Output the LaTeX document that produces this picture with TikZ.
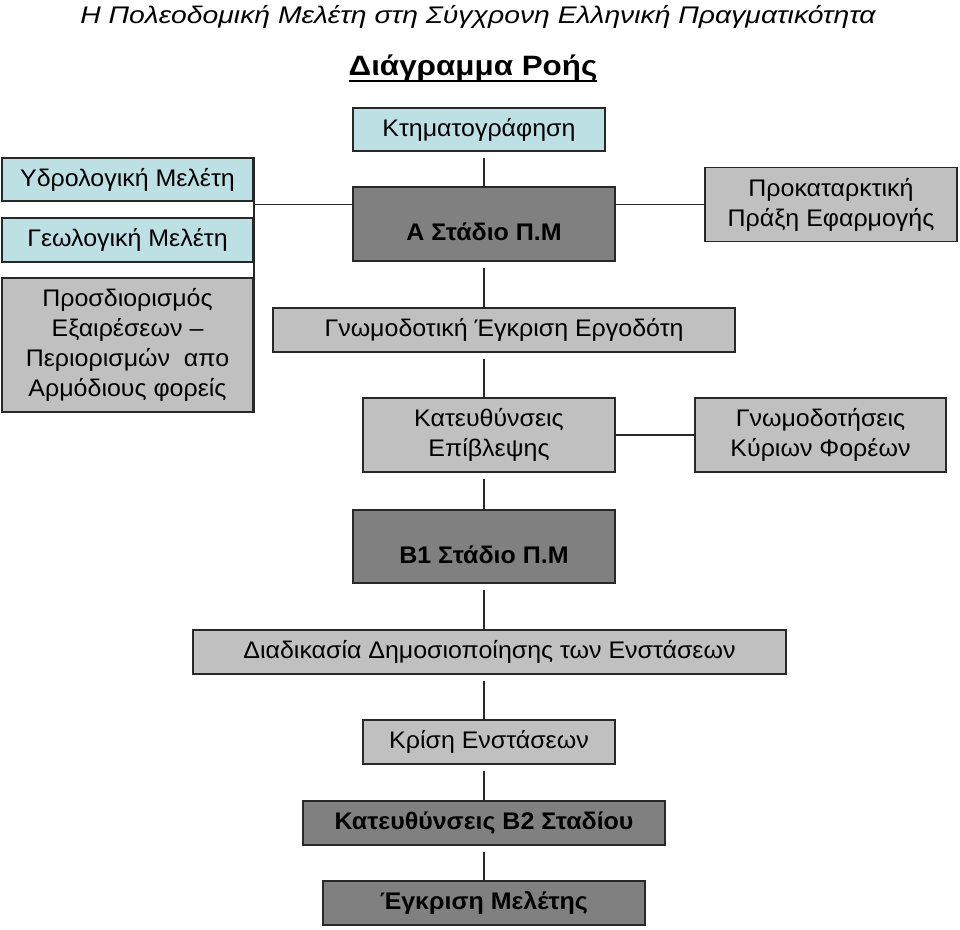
\documentclass[tikz,border=0pt]{standalone}
\usepackage{fontspec}
\setmainfont{Liberation Sans}[FakeStretch=1.04]
\newfontfamily\titleonefont[FakeStretch=1.18]{Liberation Sans}
\newfontfamily\titletwofont[FakeStretch=1.12]{Liberation Sans}
\definecolor{lblue}{RGB}{189,224,229}
\definecolor{lgray}{RGB}{192,192,192}
\definecolor{dgray}{RGB}{128,128,128}
\definecolor{edge}{RGB}{40,40,40}
\begin{document}
\begin{tikzpicture}[x=1pt,y=-1pt,
  box/.style={draw=edge, line width=1.8pt, inner sep=0pt, align=center, font=\fontsize{24}{30}\selectfont},
  bluebox/.style={box, fill=lblue},
  graybox/.style={box, fill=lgray},
  darkbox/.style={box, fill=dgray, font=\fontsize{24}{30}\selectfont\bfseries},
  conn/.style={line width=1.5pt, draw=edge}]
\useasboundingbox (0,0) rectangle (960,929);
% titles
\node[font=\titleonefont\itshape\fontsize{24}{28}\selectfont, inner sep=0pt, anchor=base] (t1) at (478,23) {Η Πολεοδομική Μελέτη στη Σύγχρονη Ελληνική Πραγματικότητα};
\node[font=\titletwofont\bfseries\fontsize{28}{32}\selectfont, inner sep=0pt, anchor=base] (t2) at (473,75) {Διάγραμμα Ροής};
\draw[line width=2.2pt] ([yshift=-6pt]t2.base west) -- ([yshift=-6pt]t2.base east);
% boxes
\node[bluebox, minimum width=252, minimum height=43] (ktim) at (479,129.5) {Κτηματογράφηση};
\node[bluebox, minimum width=251, minimum height=43] (ydro) at (127.5,179.5) {Υδρολογική Μελέτη};
\node[bluebox, minimum width=251, minimum height=44] (geol) at (127.5,240) {Γεωλογική Μελέτη};
\node[graybox, minimum width=251, minimum height=134] (pros) at (127.5,345) {Προσδιορισμός\\Εξαιρέσεων –\\Περιορισμών\ \ απο\\Αρμόδιους φορείς};
\node[darkbox, minimum width=262, minimum height=74, text height=38pt, text depth=5pt] (asta) at (484,224) {Α Στάδιο Π.Μ};
\node[graybox, minimum width=252, minimum height=74] (prok) at (831,204.5) {Προκαταρκτική\\Πράξη Εφαρμογής};
\node[graybox, minimum width=462, minimum height=44] (gnom) at (504,330) {Γνωμοδοτική Έγκριση Εργοδότη};
\node[graybox, minimum width=252, minimum height=74] (kate) at (489,435) {Κατευθύνσεις\\Επίβλεψης};
\node[graybox, minimum width=251, minimum height=74] (gnfo) at (820.5,435) {Γνωμοδοτήσεις\\Κύριων Φορέων};
\node[darkbox, minimum width=262, minimum height=73, text height=38pt, text depth=5pt] (b1) at (484,546.5) {Β1 Στάδιο Π.Μ};
\node[graybox, minimum width=593, minimum height=44] (diad) at (489.5,652) {Διαδικασία Δημοσιοποίησης των Ενστάσεων};
\node[graybox, minimum width=252, minimum height=44] (kris) at (489,742) {Κρίση Ενστάσεων};
\node[darkbox, minimum width=362, minimum height=44] (kb2) at (484,823) {Κατευθύνσεις Β2 Σταδίου};
\node[darkbox, minimum width=322, minimum height=44] (egkr) at (484,903) {Έγκριση Μελέτης};
% vertical connectors
\draw[conn, shorten <=6pt] (ktim.south -| asta.north) -- (asta.north);
\draw[conn, shorten <=6pt] (asta.south) -- (asta.south |- gnom.north);
\draw[conn, shorten <=6pt] (asta.south |- gnom.south) -- (asta.south |- kate.north);
\draw[conn, shorten <=6pt] (asta.south |- kate.south) -- (b1.north);
\draw[conn, shorten <=6pt] (b1.south) -- (b1.south |- diad.north);
\draw[conn, shorten <=6pt] (b1.south |- diad.south) -- (b1.south |- kris.north);
\draw[conn, shorten <=6pt] (b1.south |- kris.south) -- (kb2.north);
\draw[conn, shorten <=6pt] (kb2.south) -- (egkr.north);
% side connectors
\draw[conn] (ydro.north east) -- (pros.south east);
\draw[conn] (prok.west -| ydro.east) -- (prok.west -| asta.west);
\draw[conn] (prok.west -| asta.east) -- (prok.west);
\draw[conn] (kate.east) -- (gnfo.west);
\end{tikzpicture}
\end{document}
